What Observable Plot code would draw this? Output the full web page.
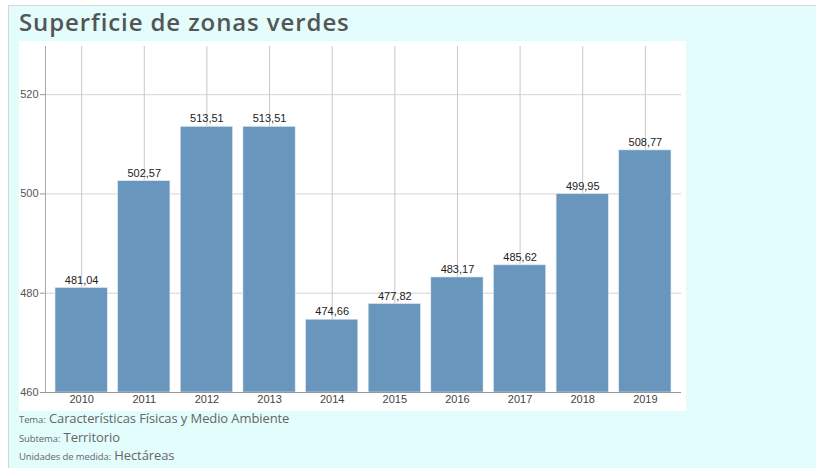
<!DOCTYPE html>
<html><head><meta charset="utf-8">
<script src="https://cdn.jsdelivr.net/npm/d3@7"></script>
<script src="https://cdn.jsdelivr.net/npm/@observablehq/plot@0.6"></script>
<style>
html,body{margin:0;padding:0;background:#fff;width:816px;height:468px;overflow:hidden;font-family:"Open Sans",sans-serif;}
#panel{position:absolute;left:8px;top:5px;width:820px;height:470px;background:#e2fdfb;border-top:1px solid #d6d6d6;border-left:1px solid #d6d6d6;}
#title{position:absolute;left:10px;top:-1px;font-family:"Open Sans",sans-serif;font-weight:600;font-size:24px;color:#555;letter-spacing:0.9px;}
#chart{position:absolute;left:10px;top:35px;background:#fff;}
.foot{position:absolute;left:10px;font-size:13px;color:#666;letter-spacing:-0.1px;}
.foot small{font-size:9.5px;}
</style></head>
<body>
<div id="panel">
<div id="title">Superficie de zonas verdes</div>
<div id="chart"></div>
<div class="foot" style="top:403px"><small>Tema:</small> Características Físicas y Medio Ambiente</div>
<div class="foot" style="top:422px"><small>Subtema:</small> Territorio</div>
<div class="foot" style="top:440px"><small>Unidades de medida:</small> Hectáreas</div>
</div>
<script>
const years = ["2010","2011","2012","2013","2014","2015","2016","2017","2018","2019"];
const values = [481.04,502.57,513.51,513.51,474.66,477.82,483.17,485.62,499.95,508.77];
const yTicks = [460,480,500,520];
const data = years.map((y,i)=>({year:y,value:values[i]}));
const fmt = v => v.toFixed(2).replace(".", ",");
const chart = Plot.plot({
  width: 667, height: 370,
  marginLeft: 26, marginTop: 5, marginBottom: 19, marginRight: 5,
  style:{fontFamily:"Liberation Sans, Arial, sans-serif", fontSize:"11px", background:"#fff", color:"#444"},
  x:{domain:years, paddingInner:0.166, paddingOuter:0.16, round:false, label:null, tickSize:0, tickPadding:3},
  y:{domain:[460,529.7], ticks:yTicks, label:null, tickSize:5, tickPadding:2},
  marks:[
    Plot.gridY(yTicks.filter(t=>t>460), {stroke:"#d4d4d4", strokeOpacity:1}),
    Plot.ruleX(years, {x: d=>d, y1:460, y2:529.7, stroke:"#c8c8c8", strokeWidth:1}),
    Plot.barY(data, {x:"year", y1:460, y2:"value", fill:"#6996bc", stroke:"#dfe8f0", strokeWidth:0.6}),
    Plot.text(data, {x:"year", y:"value", text:d=>fmt(d.value), dy:-8, fill:"#222", fontSize:11}),
    Plot.frame({anchor:"left", stroke:"#aaa"}),
    Plot.ruleY([460], {stroke:"#999"}),
    Plot.axisY({ticks:yTicks, tickSize:5, tickPadding:2, stroke:"#999", fill:"#555", fontSize:11})
  ]
});
document.getElementById("chart").appendChild(chart);
</script>
</body></html>
